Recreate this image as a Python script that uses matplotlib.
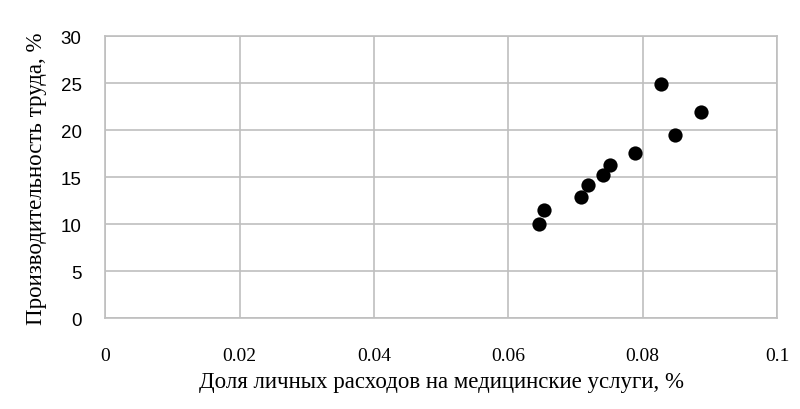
import matplotlib
matplotlib.use("Agg")
import matplotlib.pyplot as plt

# share of personal spending on medical services vs labour productivity
share = [0.0645, 0.0653, 0.0708, 0.0718, 0.0741, 0.0752, 0.0788, 0.0827, 0.0848, 0.0887]
productivity = [10.0, 11.5, 12.9, 14.15, 15.2, 16.3, 17.6, 24.9, 19.5, 21.9]
xticks = [0, 0.02, 0.04, 0.06, 0.08, 0.1]
xtick_labels = ["0", "0.02", "0.04", "0.06", "0.08", "0.1"]
yticks = [0, 5, 10, 15, 20, 25, 30]
xlabel = "Доля личных расходов на медицинские услуги, %"
ylabel = "Производительность труда, %"

SERIF = ["Liberation Serif", "DejaVu Serif"]
SANS = ["Liberation Sans", "DejaVu Sans"]
GRID = "#bfbfbf"

fig = plt.figure(figsize=(8, 4.1), dpi=100)
ax = fig.add_axes([0.1316, 0.2212, 0.8396, 0.6878])

ax.scatter(share, productivity, s=105, color="black", zorder=3, linewidths=0)

ax.set_xlim(0, 0.1)
ax.set_ylim(0, 30)
ax.set_xticks(xticks)
ax.set_xticklabels(xtick_labels, family=SERIF, fontsize=14)
ax.set_yticks(yticks)
ax.set_yticklabels([str(v) for v in yticks], family=SANS, fontsize=13.5)
ax.tick_params(length=0)
ax.tick_params(axis="x", pad=21)
ax.tick_params(axis="y", pad=17)
ax.grid(True, color=GRID, lw=1.2)
ax.set_axisbelow(True)
for sp in ax.spines.values():
    sp.set_color(GRID)
    sp.set_linewidth(1.2)

ax.set_xlabel(xlabel, family=SERIF, fontsize=16.5, labelpad=5)
ax.set_ylabel(ylabel, family=SERIF, fontsize=16.5, labelpad=10)

fig.savefig("out.png", dpi=100, facecolor="white")
